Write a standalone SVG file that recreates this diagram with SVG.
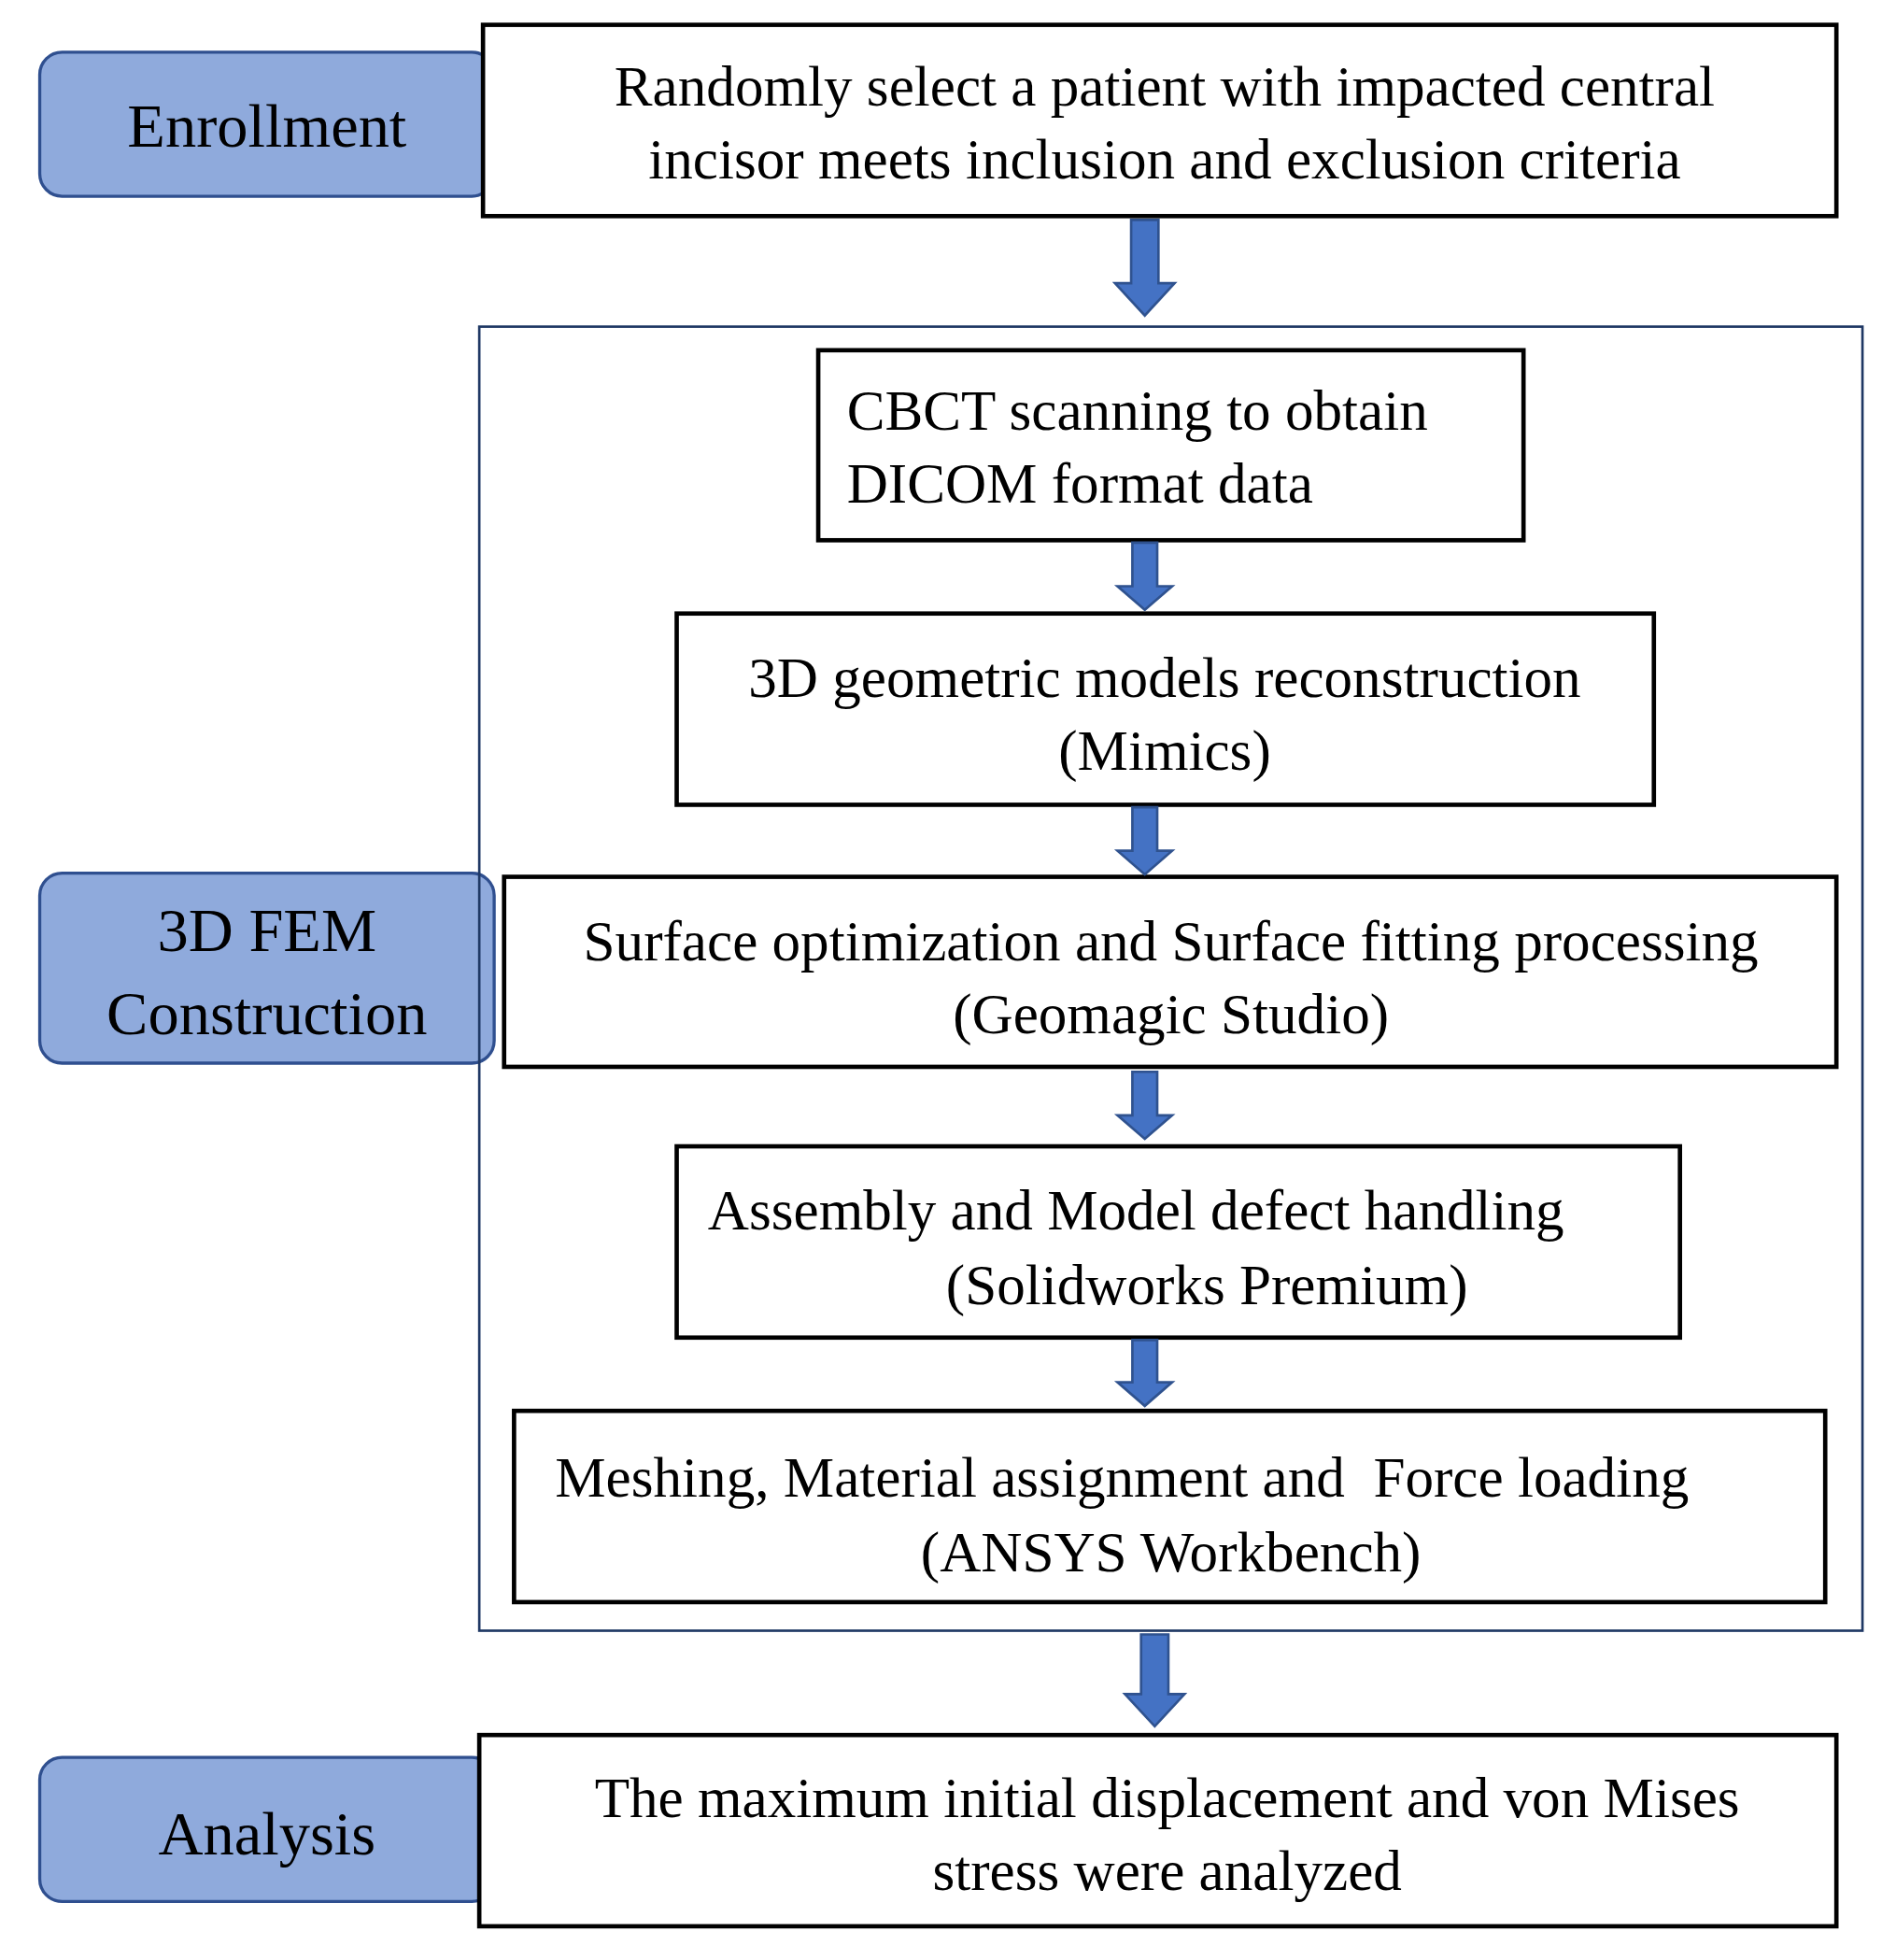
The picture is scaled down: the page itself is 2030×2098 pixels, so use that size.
<svg xmlns="http://www.w3.org/2000/svg" width="2030" height="2098" viewBox="0 0 2030 2098">
<defs>
<style>
.b{fill:#fff;stroke:#000;stroke-width:3.5}
.l{fill:#8faadc;stroke:#2f4f8f;stroke-width:2.5}
.t{font-family:"Liberation Serif",serif;font-size:46px;fill:#000}
.lt{font-family:"Liberation Serif",serif;font-size:50px;fill:#000;text-anchor:middle}
.c{text-anchor:middle}
.a{fill:#4472c4;stroke:#2f528f;stroke-width:2}
</style>
<path id="ar" class="a" d="M-11,0 H11 V-1 H0 Z"/>
</defs>
<rect width="2030" height="2098" fill="#fff"/>
<g transform="scale(1.3294)">
<g id="enrollment-label"><rect class="l" x="32" y="42" width="366" height="116" rx="18"/><text class="lt" x="215" y="118">Enrollment</text></g>
<g id="fem-label"><rect class="l" x="32" y="703" width="366" height="153" rx="18"/><text class="lt" x="215" y="766">3D FEM</text><text class="lt" x="215" y="833">Construction</text></g>
<g id="analysis-label"><rect class="l" x="32" y="1415" width="366" height="116" rx="18"/><text class="lt" x="215" y="1493">Analysis</text></g>
<g id="container"><rect x="386" y="263" width="1114" height="1050" fill="none" stroke="#1f3864" stroke-width="2"/></g>
<g id="enroll"><rect class="b" x="389" y="20" width="1090" height="154"/><text class="t c" x="938" y="85">Randomly select a patient with impacted central</text><text class="t c" x="938" y="144">incisor meets inclusion and exclusion criteria</text></g>
<g id="cbct"><rect class="b" x="659" y="282" width="568" height="153"/><text class="t" x="682" y="346">CBCT scanning to obtain</text><text class="t" x="682" y="405">DICOM format data</text></g>
<g id="geo"><rect class="b" x="545" y="494" width="787" height="154"/><text class="t c" x="938" y="561">3D geometric models reconstruction</text><text class="t c" x="938" y="620">(Mimics)</text></g>
<g id="surface"><rect class="b" x="406" y="706" width="1073" height="153"/><text class="t c" x="943" y="773">Surface optimization and Surface fitting processing</text><text class="t c" x="943" y="832">(Geomagic Studio)</text></g>
<g id="assembly"><rect class="b" x="545" y="923" width="808" height="154"/><text class="t" x="570" y="990">Assembly and Model defect handling</text><text class="t c" x="972" y="1050">(Solidworks Premium)</text></g>
<g id="meshing"><rect class="b" x="414" y="1136" width="1056" height="154"/><text class="t" x="447" y="1205" xml:space="preserve">Meshing, Material assignment and  Force loading</text><text class="t c" x="943" y="1265">(ANSYS Workbench)</text></g>
<g id="analysis"><rect class="b" x="386" y="1397" width="1093" height="154"/><text class="t c" x="940" y="1463">The maximum initial displacement and von Mises</text><text class="t c" x="940" y="1522">stress were analyzed</text></g>
<g id="connectors">
<path class="a" d="M911,177 H933 V228 H946 L922,254 L898,228 H911 Z"/>
<path class="a" d="M912,437 H932 V472 H944 L922,491 L900,472 H912 Z"/>
<path class="a" d="M912,650 H932 V685 H944 L922,704 L900,685 H912 Z"/>
<path class="a" d="M912,863 H932 V898 H944 L922,917 L900,898 H912 Z"/>
<path class="a" d="M912,1079 H932 V1113 H944 L922,1132 L900,1113 H912 Z"/>
<path class="a" d="M919,1316 H941 V1364 H954 L930,1390 L906,1364 H919 Z"/>
</g>
</g>
</svg>
